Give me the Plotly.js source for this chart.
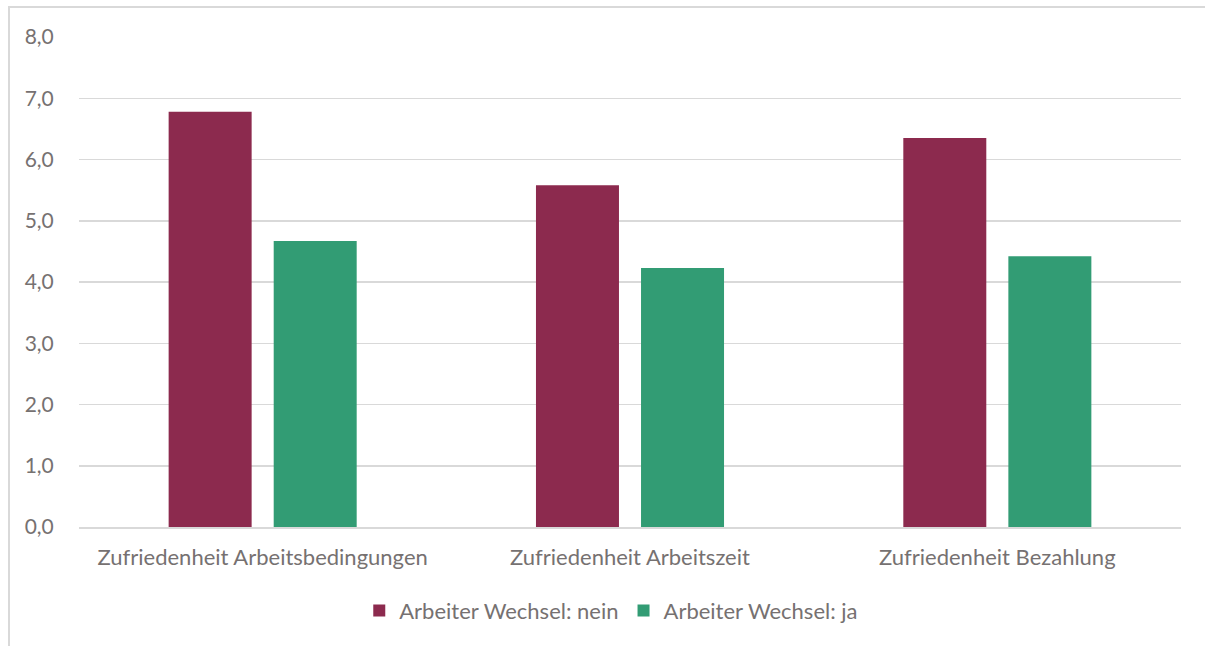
<!DOCTYPE html>
<html>
<head>
<meta charset="utf-8">
<script src="https://cdn.plot.ly/plotly-3.0.1.min.js"></script>
<style>
html,body{margin:0;padding:0;background:#fff;}
#wrap{position:relative;width:1205px;height:646px;}
#frame{position:absolute;left:8px;top:6px;width:1197px;height:640px;border-left:2px solid #d9d9d9;border-top:2px solid #d9d9d9;box-sizing:border-box;pointer-events:none;}
#chart{position:absolute;left:0;top:0;width:1205px;height:646px;}
</style>
</head>
<body>
<div id="wrap"><div id="chart"></div><div id="frame"></div></div>
<script>
const categories = ["Zufriedenheit Arbeitsbedingungen", "Zufriedenheit Arbeitszeit", "Zufriedenheit Bezahlung"];
const seriesNames = ["Arbeiter Wechsel: nein", "Arbeiter Wechsel: ja"];
const valuesNein = [6.78, 5.58, 6.35];
const valuesJa = [4.67, 4.23, 4.42];
const yTicks = [0, 1, 2, 3, 4, 5, 6, 7, 8];

const textColor = "#767171";
const fam = "Lato, 'Open Sans', sans-serif";
const catFont = {family: fam, size: 22, color: textColor};
const tickFont = {family: fam, size: 21, color: textColor};
const legFont = {family: fam, size: 22, color: textColor};

const traces = [
  {type: "bar", name: seriesNames[0], x: categories, y: valuesNein, marker: {color: "#8C2A4E"}, hoverinfo: "skip"},
  {type: "bar", name: seriesNames[1], x: categories, y: valuesJa, marker: {color: "#329C74"}, hoverinfo: "skip"}
];

const layout = {
  width: 1205, height: 646,
  margin: {l: 79, r: 24, t: 37, b: 119},
  paper_bgcolor: "rgba(0,0,0,0)", plot_bgcolor: "#fff",
  separators: ",.",
  font: catFont,
  barmode: "group",
  bargap: 0.428,
  bargroupgap: 0.21,
  showlegend: true,
  legend: {orientation: "h", x: 0.483, xanchor: "center", y: -0.171, yanchor: "middle", font: legFont, itemwidth: 30, traceorder: "normal"},
  xaxis: {
    type: "category", showgrid: false, showline: true, linecolor: "#d9d9d9", linewidth: 2,
    ticks: "outside", ticklen: 10, tickcolor: "rgba(0,0,0,0)", tickfont: catFont, zeroline: false
  },
  yaxis: {
    range: [0, 8], tickvals: yTicks, tickformat: ".1f", showgrid: true, gridcolor: "#d9d9d9", gridwidth: 1.5,
    zeroline: false, showline: false, ticks: "outside", ticklen: 20, tickcolor: "rgba(0,0,0,0)", tickfont: tickFont
  }
};

Plotly.newPlot("chart", traces, layout, {displayModeBar: false, staticPlot: true});
</script>
</body>
</html>
